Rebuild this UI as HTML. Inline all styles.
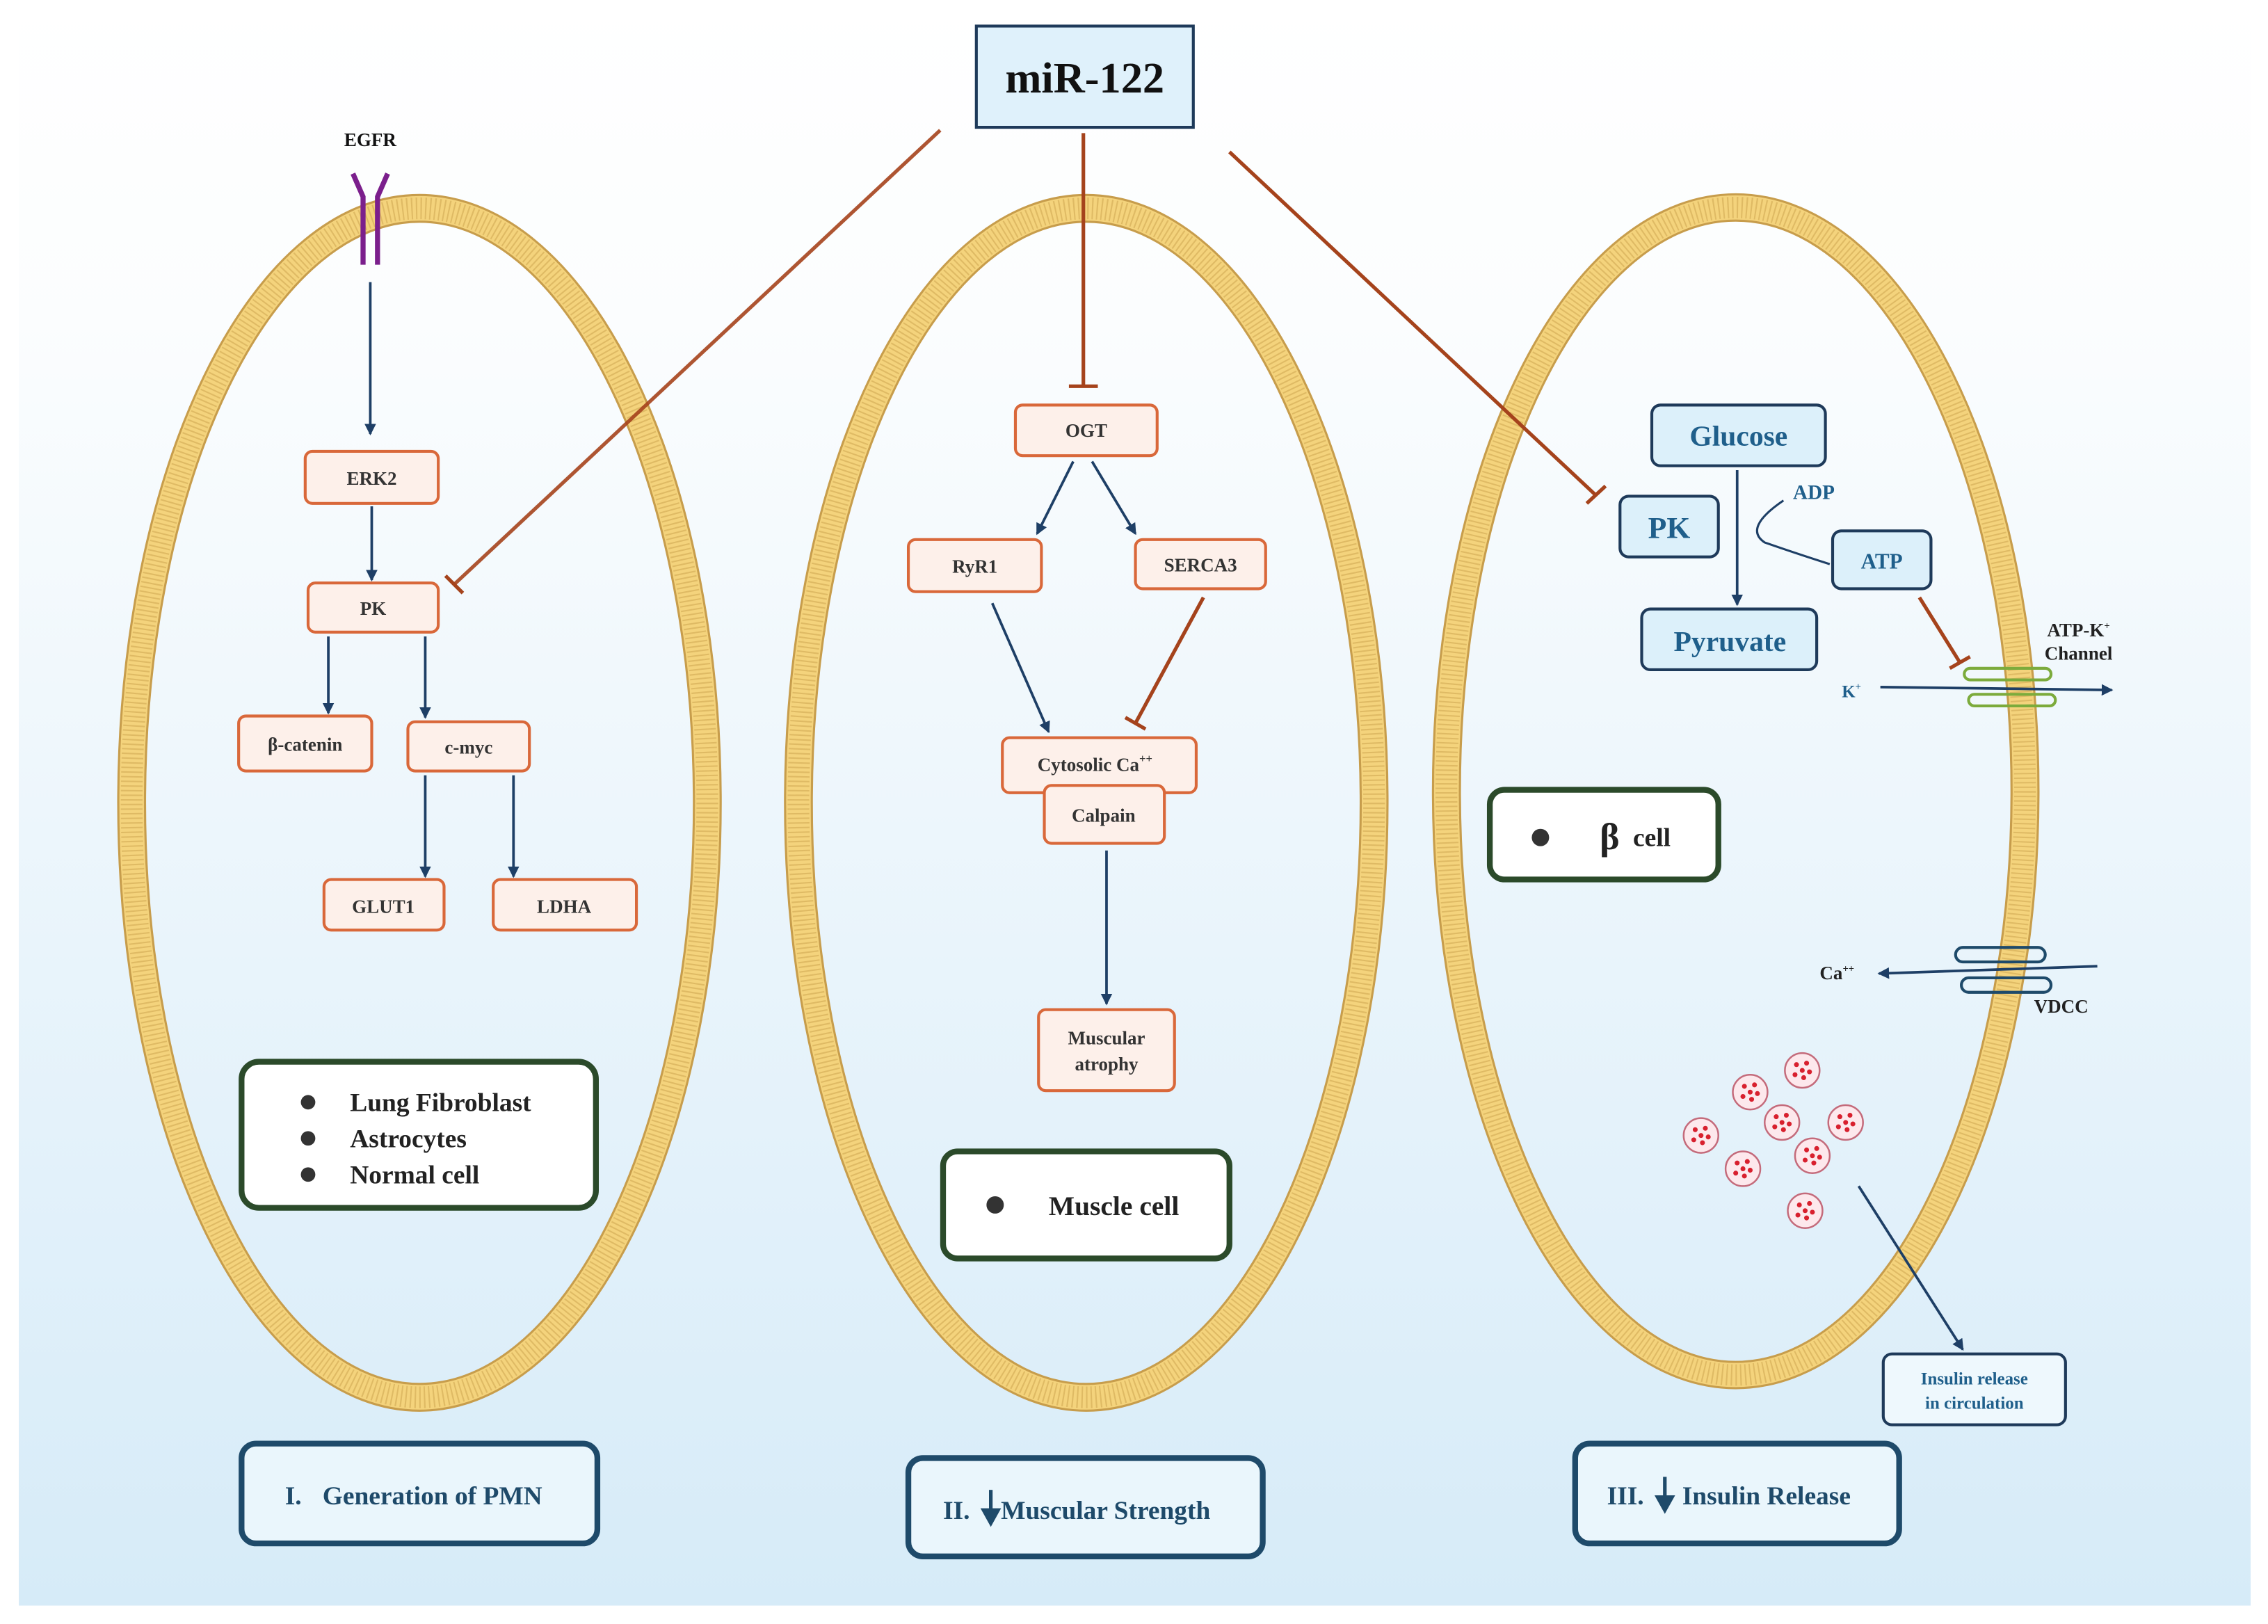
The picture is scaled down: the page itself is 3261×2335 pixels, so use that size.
<!DOCTYPE html>
<html><head><meta charset="utf-8"><style>
html,body{margin:0;padding:0;background:#fff}
svg{display:block}
text{font-family:"Liberation Serif",serif;font-weight:bold}
</style></head><body>
<svg width="3261" height="2335" viewBox="0 0 1568 1122.7" xmlns="http://www.w3.org/2000/svg">
<defs>
<linearGradient id="bg" x1="0" y1="0" x2="0" y2="1">
<stop offset="0" stop-color="#ffffff"/><stop offset="0.2" stop-color="#fbfdfe"/><stop offset="1" stop-color="#d6ebf8"/>
</linearGradient>
<marker id="ar" markerWidth="8" markerHeight="8" refX="7" refY="4" orient="auto" markerUnits="userSpaceOnUse"><path d="M0,0 L8,4 L0,8 z" fill="#1e3f66"/></marker>
<g id="mem">
<ellipse cx="0" cy="0" rx="199" ry="411" fill="none" stroke="#c79d4c" stroke-width="20"/>
<ellipse cx="0" cy="0" rx="199" ry="411" fill="none" stroke="#f4d37c" stroke-width="17"/>
<ellipse cx="0" cy="0" rx="199" ry="411" fill="none" stroke="#d9b45e" stroke-width="15" stroke-dasharray="1 2.2" opacity="0.8"/>
</g>
<g id="dots" fill="#d8202e"><circle cx="-4" cy="-4" r="1.7"/><circle cx="3" cy="-5" r="1.7"/><circle cx="0" cy="0" r="1.7"/><circle cx="5" cy="1" r="1.7"/><circle cx="-5" cy="3" r="1.7"/><circle cx="1" cy="5" r="1.7"/></g>
</defs>
<rect x="0" y="0" width="1568" height="1122.7" fill="#fff"/>
<rect x="13" y="0" width="1543" height="1110" fill="url(#bg)"/>

<!-- membranes -->
<use href="#mem" transform="translate(290,555)"/>
<use href="#mem" transform="translate(751,555)"/>
<use href="#mem" transform="translate(1200,547) scale(1.005,0.982)"/>

<!-- miR-122 -->
<rect x="675" y="18" width="150" height="70" fill="#dff1fb" stroke="#1e3a5a" stroke-width="2"/>
<text x="750" y="64" font-size="30" text-anchor="middle" fill="#111">miR-122</text>

<!-- inhibition lines -->
<g stroke="#a5431c" stroke-width="2.5" fill="none">
<line x1="650" y1="90" x2="314" y2="404" stroke-opacity="0.9"/>
<line x1="308" y1="398" x2="320" y2="410"/>
<line x1="749" y1="92" x2="749" y2="267"/>
<line x1="739" y1="267" x2="759" y2="267"/>
<line x1="850" y1="105" x2="1104" y2="343"/>
<line x1="1097" y1="348" x2="1110" y2="336"/>
<line x1="832" y1="413" x2="785" y2="500"/>
<line x1="778" y1="496" x2="792" y2="504"/>
<line x1="1327" y1="413" x2="1355" y2="458"/>
<line x1="1348" y1="462" x2="1362" y2="454"/>
</g>

<!-- EGFR -->
<text x="256" y="101" font-size="13" text-anchor="middle" fill="#111" font-weight="normal">EGFR</text>
<g stroke="#7b1f8c" stroke-width="3.5" fill="none">
<path d="M244,120 L251,136 L251,183"/><path d="M268,120 L261,136 L261,183"/>
</g>

<!-- navy arrows -->
<g stroke="#1e3f66" stroke-width="1.8" fill="none" marker-end="url(#ar)">
<line x1="256" y1="195" x2="256" y2="300"/>
<line x1="257" y1="350" x2="257" y2="401"/>
<line x1="227" y1="440" x2="227" y2="493"/>
<line x1="294" y1="440" x2="294" y2="496"/>
<line x1="294" y1="536" x2="294" y2="606"/>
<line x1="355" y1="536" x2="355" y2="606"/>
<line x1="742" y1="319" x2="717" y2="369"/>
<line x1="755" y1="319" x2="785" y2="369"/>
<line x1="686" y1="417" x2="725" y2="506"/>
<line x1="765" y1="588" x2="765" y2="694"/>
<line x1="1201" y1="325" x2="1201" y2="418"/>
<line x1="1285" y1="820" x2="1357" y2="933"/>
<line x1="1300" y1="475" x2="1460" y2="477"/>
<line x1="1450" y1="668" x2="1299" y2="673"/>
</g>
<path d="M1233,346 Q1205,365 1220,375 Q1240,382 1265,390" stroke="#1e3f66" stroke-width="1.5" fill="none"/>

<!-- orange boxes -->
<g fill="#fdf0ea" stroke="#d9683a" stroke-width="2">
<rect x="211" y="312" width="92" height="36" rx="5"/>
<rect x="213" y="403" width="90" height="34" rx="5"/>
<rect x="165" y="495" width="92" height="38" rx="5"/>
<rect x="282" y="499" width="84" height="34" rx="5"/>
<rect x="224" y="608" width="83" height="35" rx="5"/>
<rect x="341" y="608" width="99" height="35" rx="5"/>
<rect x="702" y="280" width="98" height="35" rx="5"/>
<rect x="628" y="373" width="92" height="36" rx="5"/>
<rect x="785" y="373" width="90" height="34" rx="5"/>
<rect x="693" y="510" width="134" height="38" rx="5"/>
<rect x="722" y="543" width="83" height="40" rx="5"/>
<rect x="718" y="698" width="94" height="56" rx="5"/>
</g>
<g font-size="13" fill="#333" text-anchor="middle">
<text x="257" y="335">ERK2</text>
<text x="258" y="425">PK</text>
<text x="211" y="519">β-catenin</text>
<text x="324" y="521">c-myc</text>
<text x="265" y="631">GLUT1</text>
<text x="390" y="631">LDHA</text>
<text x="751" y="302">OGT</text>
<text x="674" y="396">RyR1</text>
<text x="830" y="395">SERCA3</text>
<text x="757" y="533">Cytosolic Ca<tspan font-size="8" dy="-6">++</tspan></text>
<text x="763" y="568">Calpain</text>
<text x="765" y="722">Muscular</text>
<text x="765" y="740">atrophy</text>
</g>

<!-- blue boxes (beta cell) -->
<g fill="#dcf0fa" stroke="#1e3a5a" stroke-width="2">
<rect x="1142" y="280" width="120" height="42" rx="6"/>
<rect x="1120" y="343" width="68" height="42" rx="6"/>
<rect x="1135" y="421" width="121" height="42" rx="6"/>
<rect x="1267" y="367" width="68" height="40" rx="6"/>
<rect x="1302" y="936" width="126" height="49" rx="6" fill="#eef8fd"/>
</g>
<g fill="#1f5f8b" text-anchor="middle">
<text x="1202" y="308" font-size="20">Glucose</text>
<text x="1154" y="372" font-size="21">PK</text>
<text x="1196" y="450" font-size="20">Pyruvate</text>
<text x="1301" y="393" font-size="15" font-weight="normal">ATP</text>
<text x="1254" y="345" font-size="14" font-weight="normal">ADP</text>
<text x="1280" y="482" font-size="12" font-weight="normal">K<tspan font-size="7" dy="-5">+</tspan></text>
<text x="1365" y="957" font-size="12" font-weight="normal">Insulin release</text>
<text x="1365" y="974" font-size="12" font-weight="normal">in circulation</text>
</g>
<g fill="#222" font-size="13" text-anchor="middle" font-weight="normal">
<text x="1437" y="440">ATP-K<tspan font-size="7" dy="-5">+</tspan></text>
<text x="1437" y="456">Channel</text>
<text x="1270" y="677">Ca<tspan font-size="7" dy="-5">++</tspan></text>
<text x="1425" y="700">VDCC</text>
</g>
<!-- channels -->
<g fill="none" stroke-width="2">
<rect x="1358" y="462" width="60" height="8" rx="4" stroke="#7cab3c"/>
<rect x="1361" y="480" width="60" height="8" rx="4" stroke="#7cab3c"/>
<rect x="1352" y="655" width="62" height="10" rx="5" stroke="#1e4a6a"/>
<rect x="1356" y="676" width="62" height="10" rx="5" stroke="#1e4a6a"/>
</g>

<!-- vesicles -->
<g fill="#fde8ec" stroke="#c46b7b" stroke-width="1.2">
<circle cx="1246" cy="740" r="12"/><circle cx="1210" cy="755" r="12"/><circle cx="1232" cy="776" r="12"/>
<circle cx="1276" cy="776" r="12"/><circle cx="1176" cy="785" r="12"/><circle cx="1253" cy="799" r="12"/>
<circle cx="1205" cy="808" r="12"/><circle cx="1248" cy="837" r="12"/>
</g>
<use href="#dots" x="1246" y="740"/><use href="#dots" x="1210" y="755"/><use href="#dots" x="1232" y="776"/>
<use href="#dots" x="1276" y="776"/><use href="#dots" x="1176" y="785"/><use href="#dots" x="1253" y="799"/>
<use href="#dots" x="1205" y="808"/><use href="#dots" x="1248" y="837"/>

<!-- legends -->
<g fill="#fff" stroke="#2b4a2a" stroke-width="4">
<rect x="167" y="734" width="245" height="101" rx="12"/>
<rect x="652" y="796" width="198" height="74" rx="10"/>
<rect x="1030" y="546" width="158" height="62" rx="10"/>
</g>
<g fill="#333">
<circle cx="213" cy="762" r="5"/><circle cx="213" cy="787" r="5"/><circle cx="213" cy="812" r="5"/>
<circle cx="688" cy="833" r="6"/><circle cx="1065" cy="579" r="6"/>
</g>
<g fill="#222" font-size="18">
<text x="242" y="768">Lung Fibroblast</text>
<text x="242" y="793">Astrocytes</text>
<text x="242" y="818">Normal cell</text>
<text x="725" y="840" font-size="19">Muscle cell</text>
<text x="1106" y="587" font-size="26">β</text><text x="1129" y="585" font-size="18">cell</text>
</g>

<!-- bottom boxes -->
<g fill="#eaf6fc" stroke="#1e4a6a" stroke-width="4">
<rect x="167" y="998" width="246" height="69" rx="10"/>
<rect x="628" y="1008" width="245" height="68" rx="10"/>
<rect x="1089" y="998" width="224" height="69" rx="10"/>
</g>
<g fill="#1e4a6a" font-size="18">
<text x="197" y="1040">I.</text><text x="223" y="1040">Generation of PMN</text>
<text x="652" y="1050">II.</text><text x="692" y="1050">Muscular Strength</text>
<text x="1111" y="1040">III.</text><text x="1163" y="1040">Insulin Release</text>
</g>
<g stroke="#1e4a6a" stroke-width="2.5" fill="#1e4a6a">
<line x1="685" y1="1030" x2="685" y2="1048"/><path d="M680,1044 L690,1044 L685,1053 z"/>
<line x1="1151" y1="1021" x2="1151" y2="1039"/><path d="M1146,1035 L1156,1035 L1151,1044 z"/>
</g>
</svg>
</body></html>
